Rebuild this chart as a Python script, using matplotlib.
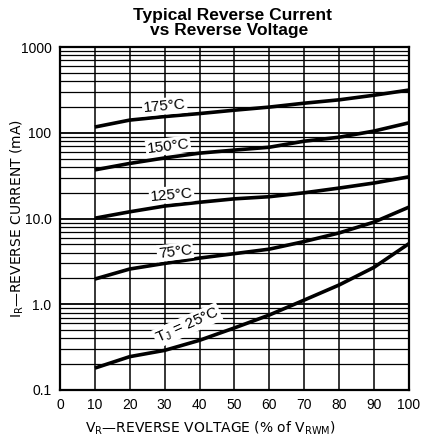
import matplotlib
matplotlib.use("Agg")
import matplotlib.pyplot as plt
import numpy as np

plt.rcParams['font.family'] = ['Liberation Sans', 'DejaVu Sans']
plt.rcParams['mathtext.default'] = 'regular'

voltage = [10, 20, 30, 40, 50, 60, 70, 80, 90, 100]
i_175 = [117, 141, 155, 168, 184, 200, 222, 243, 275, 316]
i_150 = [37, 44, 51, 58, 63, 68, 80, 89, 105, 131]
i_125 = [10.1, 12.0, 14.0, 15.5, 17.0, 18.0, 20.0, 22.7, 26.0, 30.7]
i_75 = [1.97, 2.58, 3.0, 3.46, 3.9, 4.4, 5.4, 6.8, 9.1, 13.6]
i_25 = [0.18, 0.245, 0.29, 0.38, 0.53, 0.75, 1.12, 1.68, 2.7, 5.1]

labels = ['175°C', '150°C', '125°C', '75°C', r'T$_J$ = 25°C']
label_x = [30, 31, 32, 33, 36.5]
label_y = [205, 70, 19, 4.1, 0.57]
label_rot = [5, 7, 5, 7, 24]

x_ticks = [0, 10, 20, 30, 40, 50, 60, 70, 80, 90, 100]
y_ticks = [0.1, 1.0, 10.0, 100, 1000]
y_ticklabels = ['0.1', '1.0', '10.0', '100', '1000']

fig = plt.figure(figsize=(4.22, 4.45), dpi=100)
ax = fig.add_axes([0.142, 0.1236, 0.827, 0.7704])
ax.set_yscale('log')
ax.set_xlim(0, 100)
ax.set_ylim(0.1, 1000)

# grid
for xv in range(10, 100, 10):
    ax.axvline(xv, color='black', lw=1.1, zorder=1)
for dec in [0.1, 1, 10, 100]:
    for m in range(1, 10):
        v = dec * m
        if 0.1 < v < 1000:
            ax.axhline(v, color='black', lw=1.3 if m == 1 else 0.9, zorder=1)

for series in [i_175, i_150, i_125, i_75, i_25]:
    ax.plot(voltage, series, color='black', lw=2.6, zorder=3, solid_capstyle='butt')

for t, lx, ly, r in zip(labels, label_x, label_y, label_rot):
    ax.text(lx, ly, t, fontsize=11, rotation=r, ha='center', va='center', zorder=4,
            rotation_mode='anchor',
            bbox=dict(facecolor='white', edgecolor='none', pad=1.0))

ax.set_xticks(x_ticks)
ax.set_xticklabels([str(v) for v in x_ticks])
ax.set_yticks(y_ticks)
ax.set_yticklabels(y_ticklabels)
ax.yaxis.set_minor_locator(matplotlib.ticker.NullLocator())
ax.tick_params(axis='both', length=0, labelsize=10, pad=6)
for s in ax.spines.values():
    s.set_linewidth(1.6)

ax.set_xlabel(r'V$_{R}$—REVERSE VOLTAGE (% of V$_{RWM}$)', fontsize=10, va='center',
              family=['DejaVu Sans'])
ax.xaxis.set_label_coords(0.43, -0.111)
ax.set_ylabel(r'I$_{R}$—REVERSE CURRENT (mA)', fontsize=10, va='center',
              family=['DejaVu Sans'])
ax.yaxis.set_label_coords(-0.123, 0.5)

fig.text(0.55, 0.966, 'Typical Reverse Current', ha='center', va='center',
         fontsize=12.5, fontweight='bold')
fig.text(0.542, 0.932, 'vs Reverse Voltage', ha='center', va='center',
         fontsize=12.5, fontweight='bold')

fig.savefig('out.png', dpi=100)
